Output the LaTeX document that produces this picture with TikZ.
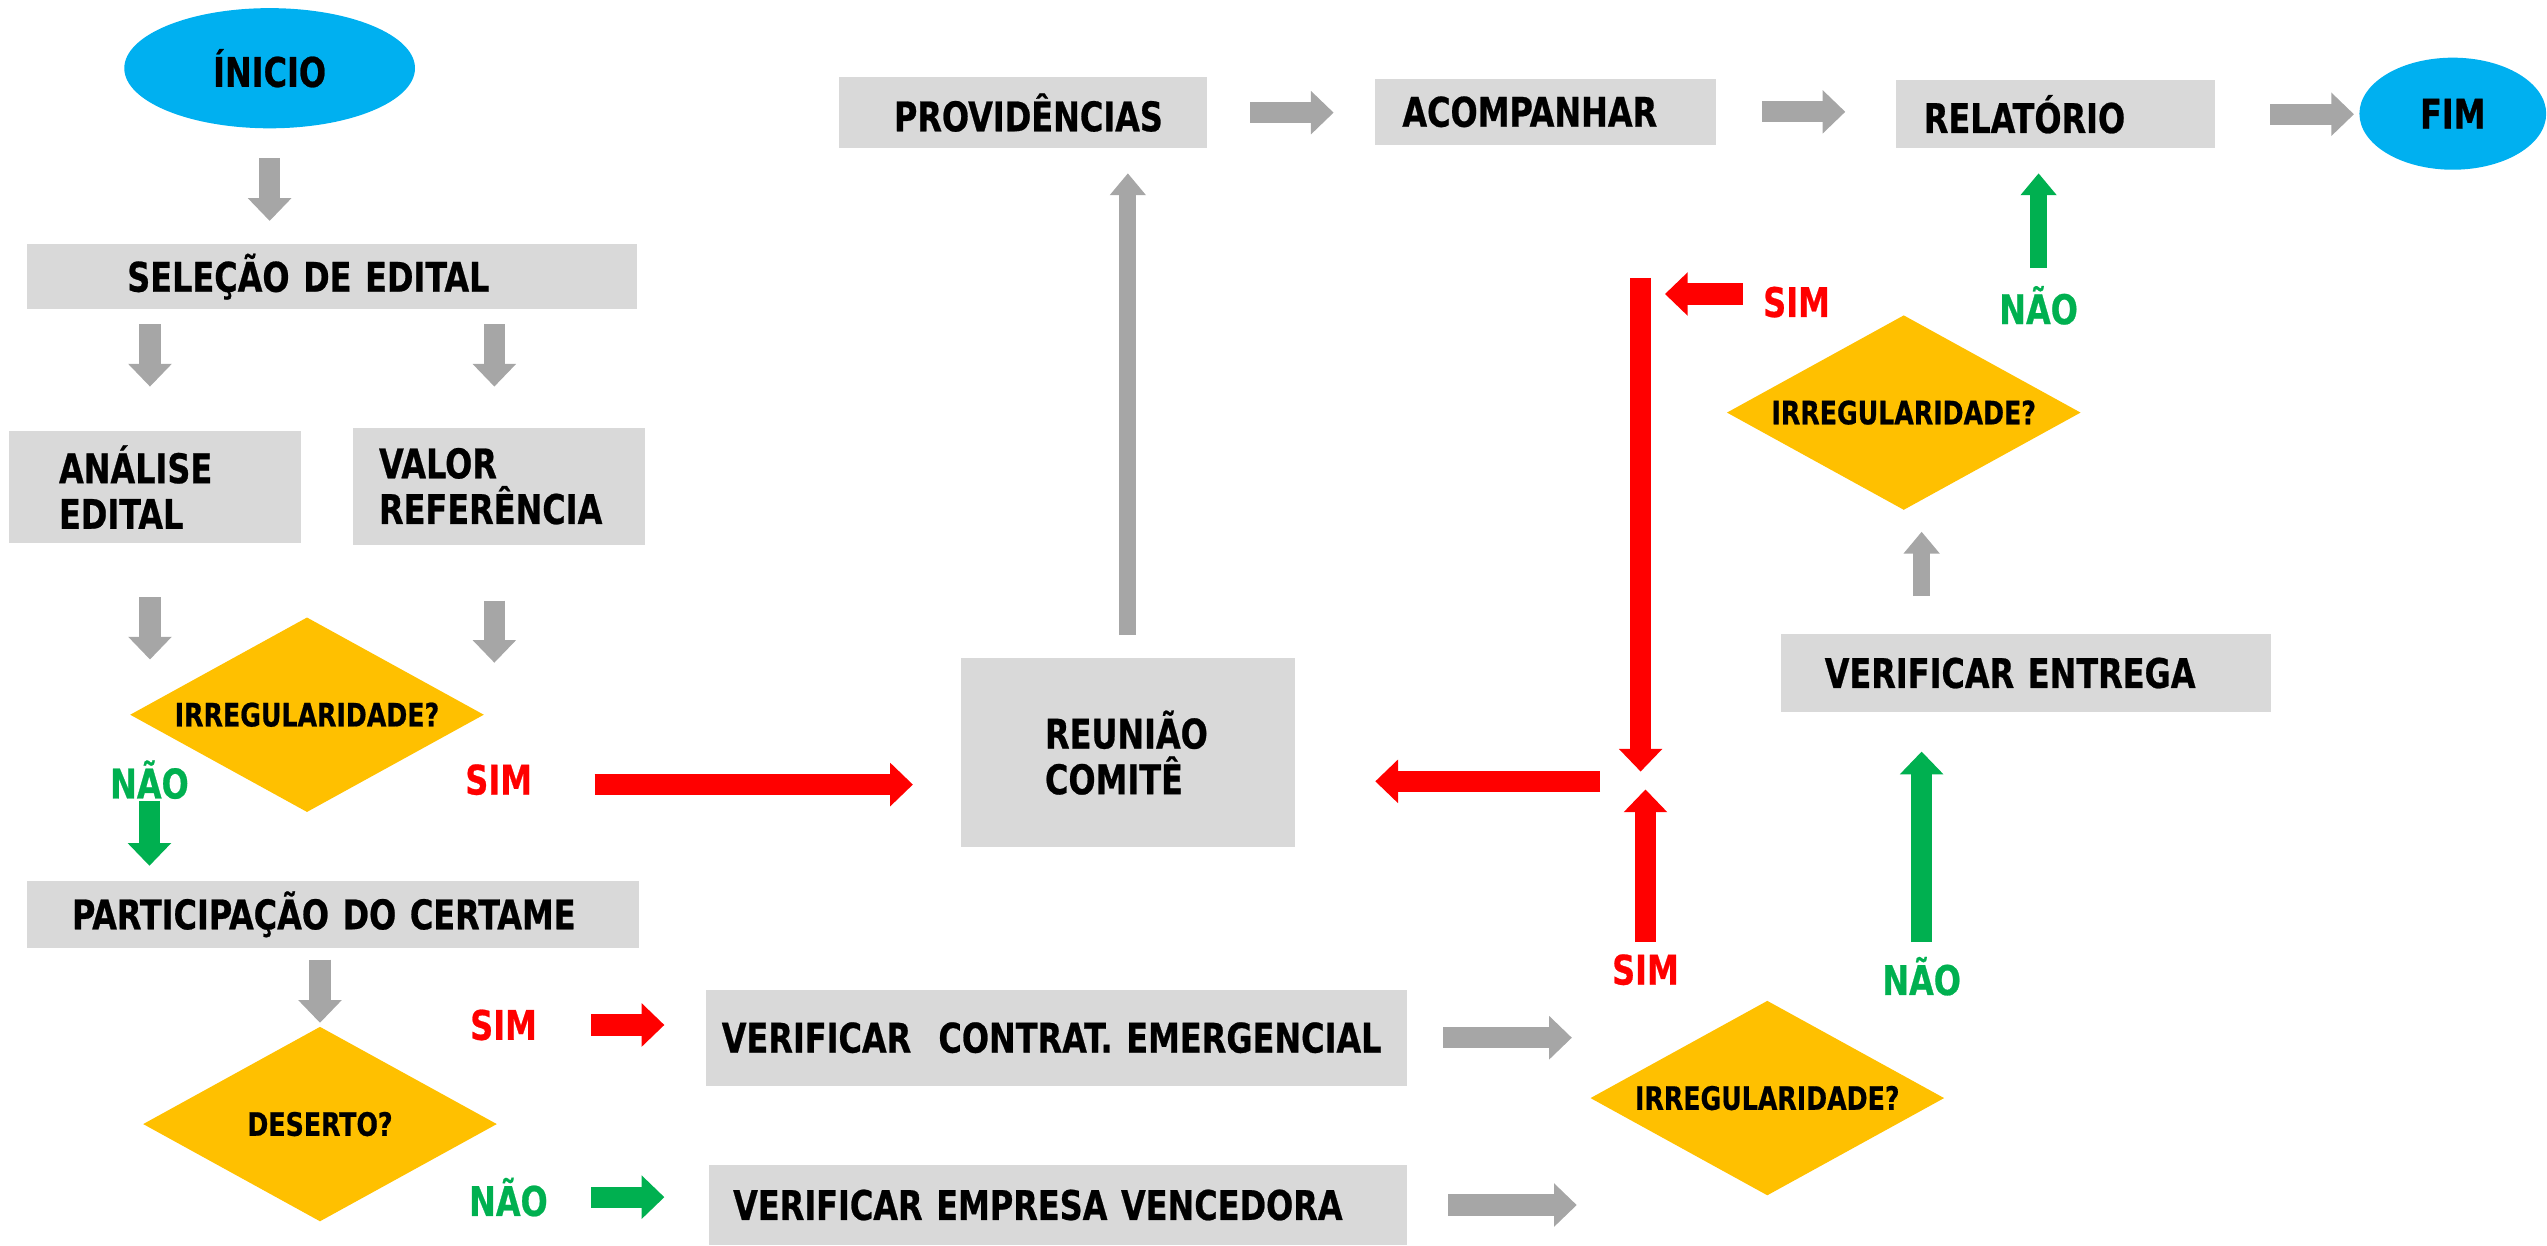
\documentclass[tikz,border=0pt]{standalone}
\usepackage{fontspec}
\setmainfont{DejaVu Sans Condensed}[FakeStretch=0.87, BoldFeatures={FakeBold=0.6}]
\usetikzlibrary{positioning, arrows.meta, shapes.geometric}
\definecolor{boxgray}{HTML}{D9D9D9}
\definecolor{arrgray}{HTML}{A6A6A6}
\definecolor{decyellow}{HTML}{FFC000}
\definecolor{termblue}{HTML}{00B0F0}
\definecolor{simred}{HTML}{FF0000}
\definecolor{naogreen}{HTML}{00B050}

\tikzset{
 box/.style={fill=boxgray, anchor=north west, inner ysep=0pt, align=left,
   font=\bfseries\fontsize{14.3}{16}\selectfont},
 decision/.style={diamond, fill=decyellow, aspect=1.8, minimum width=4.36cm,
   minimum height=2.4cm, inner sep=0pt, font=\bfseries\fontsize{11.3}{13}\selectfont},
 terminal/.style={ellipse, fill=termblue, inner sep=0pt,
   font=\bfseries\fontsize{14.3}{15}\selectfont},
 simlbl/.style={text=simred, font=\bfseries\fontsize{14.3}{15}\selectfont},
 naolbl/.style={text=naogreen, font=\bfseries\fontsize{14.3}{15}\selectfont},
 blk/.style={line width=0.26cm, -{Triangle[length=0.28cm, width=0.52cm]}},
 blkthin/.style={line width=0.21cm, -{Triangle[length=0.27cm, width=0.43cm]}},
}

\begin{document}
\begin{tikzpicture}[x=0.02cm, y=-0.02cm]
 \useasboundingbox (0,0) rectangle (1568,767);

 % start / end
 \node[terminal, minimum width=3.58cm, minimum height=1.48cm] (inicio) at (166,42) {ÍNICIO};
 \node[terminal, minimum width=2.3cm, minimum height=1.38cm] (fim) at (1510,70) {FIM};

 % left column
 \node[box, minimum height=0.8cm, text width=5.04cm, inner xsep=1.24cm] (selecao) at (16,150) {SELEÇÃO DE EDITAL};
 \node[box, minimum height=1.38cm, text width=2.36cm, inner xsep=0.62cm] (analise) at (5,265) {ANÁLISE\\EDITAL};
 \node[box, minimum height=1.44cm, text width=2.96cm, inner xsep=0.32cm] (valor) at (217,263) {VALOR\\REFERÊNCIA};
 \node[decision] (irreg1) at (189,440) {IRREGULARIDADE?};
 \node[box, minimum height=0.82cm, text width=6.42cm, inner xsep=0.56cm] (partic) at (16,542) {PARTICIPAÇÃO DO CERTAME};
 \node[decision] (deserto) at (197,692) {DESERTO?};

 % middle
 \node[box, minimum height=1.18cm, text width=8.24cm, inner xsep=0.2cm] (contrat) at (434,609) {VERIFICAR\ \ CONTRAT. EMERGENCIAL};
 \node[box, minimum height=0.98cm, text width=8.0cm, inner xsep=0.3cm] (empresa) at (436,717) {VERIFICAR EMPRESA VENCEDORA};
 \node[box, minimum height=2.32cm, text width=2.04cm, inner xsep=1.04cm] (reuniao) at (591,405) {REUNIÃO\\COMITÊ};
 \node[box, minimum height=0.88cm, text width=3.18cm, inner xsep=0.68cm] (provid) at (516,47) {PROVIDÊNCIAS};
 \node[box, minimum height=0.82cm, text width=3.52cm, inner xsep=0.34cm] (acomp) at (846,48) {ACOMPANHAR};
 \node[box, minimum height=0.84cm, text width=3.24cm, inner xsep=0.34cm] (relat) at (1167,49) {RELATÓRIO};

 % right column
 \node[decision] (irreg3) at (1088,676) {IRREGULARIDADE?};
 \node[box, minimum height=0.96cm, text width=4.96cm, inner xsep=0.54cm] (entrega) at (1096,390) {VERIFICAR ENTREGA};
 \node[decision] (irreg2) at (1172,254) {IRREGULARIDADE?};

 % answers
 \node[naolbl] (nao1) at (92,480) {NÃO};
 \node[simlbl] (sim1) at (307,480) {SIM};
 \node[simlbl] (sim2) at (310,631) {SIM};
 \node[naolbl] (nao2) at (313,737) {NÃO};
 \node[simlbl] (sim3) at (1013,597) {SIM};
 \node[naolbl] (nao3) at (1183,601) {NÃO};
 \node[simlbl] (sim4) at (1106,186) {SIM};
 \node[naolbl] (nao4) at (1255,188) {NÃO};
 \coordinate (jtop) at (1010,171);
 \coordinate (junc) at (1010,481);

 % gray flow
 \draw[blk, arrgray, shorten <=0.36cm, shorten >=0.28cm] (inicio.south) -- (inicio.south |- selecao.north);
 \draw[blk, arrgray, shorten <=0.18cm, shorten >=0.54cm] ([xshift=-0.06cm]analise.north |- selecao.south) -- ([xshift=-0.06cm]analise.north);
 \draw[blk, arrgray, shorten <=0.18cm, shorten >=0.5cm] ([xshift=-0.06cm]valor.north |- selecao.south) -- ([xshift=-0.06cm]valor.north);
 \draw[blk, arrgray, shorten <=0.66cm, shorten >=0.68cm] ([xshift=-0.06cm]analise.south) -- ([xshift=-0.06cm]analise.south |- irreg1.west);
 \draw[blk, arrgray, shorten <=0.68cm, shorten >=0.64cm] ([xshift=-0.06cm]valor.south) -- ([xshift=-0.06cm]valor.south |- irreg1.west);
 \draw[blk, arrgray, shorten <=0.14cm, shorten >=0.04cm] (deserto.north |- partic.south) -- (deserto.north);
 \draw[blk, arrgray, shorten <=0.44cm, shorten >=0.22cm] (contrat.east) -- (contrat.east -| irreg3.west);
 \draw[blk, arrgray, shorten <=0.5cm, shorten >=0.16cm] (empresa.east) -- (empresa.east -| irreg3.west);
 \draw[blkthin, arrgray, shorten <=0.46cm, shorten >=0.26cm] (nao3 |- entrega.north) -- (nao3 |- irreg2.south);
 \draw[blkthin, arrgray, shorten <=0.28cm, shorten >=0.3cm] (reuniao.north) -- (reuniao.north |- provid.south);
 \draw[blk, arrgray, shorten <=0.52cm, shorten >=0.5cm] (provid.east) -- (provid.east -| acomp.west);
 \draw[blk, arrgray, shorten <=0.56cm, shorten >=0.62cm] (acomp.east) -- (acomp.east -| relat.west);
 \draw[blk, arrgray, shorten <=0.68cm, shorten >=0.06cm] (relat.east) -- (relat.east -| fim.west);

 % answers: red = sim, green = nao
 \draw[blk, naogreen, shorten <=0.26cm, shorten >=0.18cm] (nao1.center) -- (nao1 |- partic.north);
 \draw[blk, simred, shorten <=1.18cm, shorten >=0.58cm] ([yshift=-0.06cm]sim1.center) -- ([yshift=-0.06cm]sim1 -| reuniao.west);
 \draw[blk, simred, shorten <=1.08cm, shorten >=0.5cm] (sim2.center) -- (sim2 -| contrat.west);
 \draw[blk, naogreen, shorten <=1.02cm, shorten >=0.54cm] (nao2.center) -- (nao2 -| empresa.west);
 \draw[blk, simred, shorten <=0.34cm, shorten >=0.1cm] (sim3.center) -- (sim3 |- junc);
 \draw[blk, naogreen, shorten <=0.42cm, shorten >=0.48cm] (nao3.center) -- (nao3 |- entrega.south);
 \draw[blkthin, naogreen, shorten <=0.46cm, shorten >=0.3cm] (nao4.center) -- (nao4 |- relat.south);
 \draw[blk, simred, shorten <=0.66cm, shorten >=0.3cm] ([yshift=0.1cm]sim4.center) -- ([yshift=0.1cm]sim4 -| jtop);
 \draw[blk, simred, shorten >=0.12cm] (jtop) -- (junc);
 \draw[blk, simred, shorten <=0.5cm, shorten >=0.98cm] (junc) -- (junc -| reuniao.east);
\end{tikzpicture}
\end{document}
